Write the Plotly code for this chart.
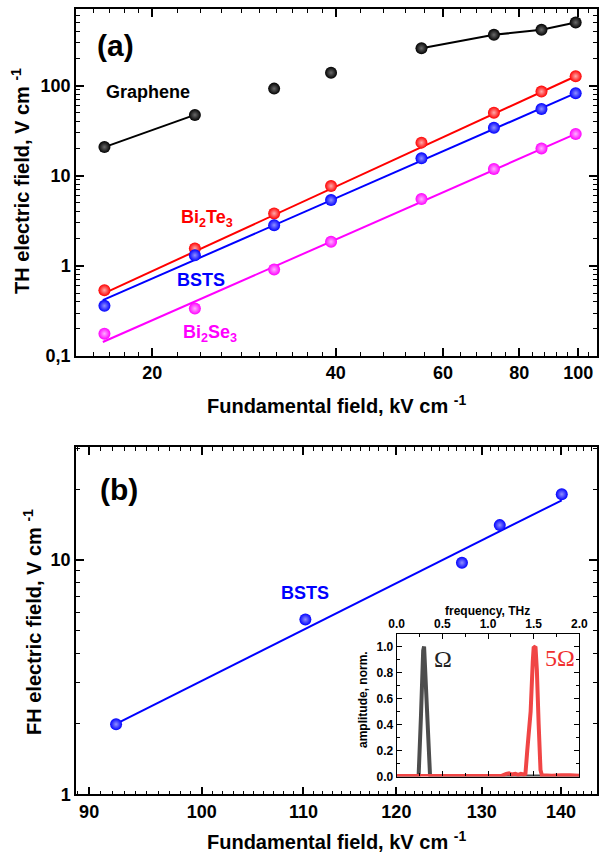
import plotly.graph_objects as go
import math

W, H = 601, 857

# ---------------- data: panel (a) ----------------
fund_a = [16.7, 23.5, 31.7, 39.3, 55.3, 72.7, 87.0, 99.0]
graphene = [20.8, 47.3, 92.6, 139, 260, 366, 416, 501]
bi2te3 = [0.537, 1.56, 3.82, 7.69, 23.3, 50.1, 85.8, 127]
bsts_a = [0.36, 1.31, 2.83, 5.37, 15.6, 34.1, 55.1, 82.4]
bi2se3 = [0.177, 0.336, 0.912, 1.85, 5.51, 11.9, 20.1, 29.1]

fit_x_a = [16.6, 99.0]
fit_bi2te3 = [0.49, 127]
fit_bsts_a = [0.416, 82.4]
fit_bi2se3 = [0.143, 29.1]

# graphene guide lines (connect pts 1-2 and 5-8)
graph_line_idx = [[0, 1], [4, 5, 6, 7]]

# ---------------- data: panel (b) ----------------
fund_b = [92.3, 110.2, 127.6, 132.2, 140.1]
fh_bsts = [1.99, 5.58, 9.74, 14.1, 19.1]
fit_x_b = [92.3, 140.1]
fit_b = [2.0, 18.0]

# ---------------- data: inset spectra ----------------
freq_omega = [0.0, 0.1, 0.2, 0.24, 0.265, 0.278, 0.29, 0.30, 0.31, 0.335, 0.365, 0.40,
              0.8, 1.2, 1.6, 2.0]
amp_omega = [0.0, 0.0, 0.0, 0.004, 0.45, 0.77, 0.97, 1.0, 0.85, 0.4, 0.01, 0.0,
             0.0, 0.0, 0.0, 0.0]
freq_5omega = [0.0, 0.2, 0.4, 0.6, 0.8, 1.0, 1.15, 1.2, 1.23, 1.26, 1.3, 1.33, 1.36,
               1.39, 1.41, 1.43, 1.452, 1.467, 1.49, 1.50, 1.52, 1.535, 1.555, 1.575,
               1.59, 1.62, 1.7, 1.8, 1.85, 1.9, 2.0]
amp_5omega = [0.004, 0.004, 0.004, 0.004, 0.004, 0.004, 0.005, 0.02, 0.025, 0.015,
              0.02, 0.012, 0.02, 0.015, 0.02, 0.2, 0.4, 0.5, 0.88, 0.99, 1.0, 0.82,
              0.4, 0.05, 0.01, 0.007, 0.006, 0.01, 0.007, 0.01, 0.006]

# tick labels
ya_vals = [0.1, 1, 10, 100]
ya_text = ["0,1", "1", "10", "100"]
xa_vals = [20, 40, 60, 80, 100]
yb_vals = [1, 10]
xb_vals = [90, 100, 110, 120, 130, 140]

# ---------------- helpers ----------------
def px(x):
    return x / W

def py(y):
    return 1 - y / H

FONT = "Liberation Sans, Arial, sans-serif"

def axis(**kw):
    d = dict(showline=True, linewidth=1.5, linecolor="black", mirror="ticks",
             ticks="inside", ticklen=8, tickwidth=1.5, tickcolor="black",
             showgrid=False, zeroline=False, automargin=False,
             tickfont=dict(family=FONT, size=18, color="black", weight="bold"))
    d.update(kw)
    return d

def minor(vals, ln=4):
    return dict(ticks="inside", ticklen=ln, tickwidth=1.2, tickcolor="black",
                tickmode="array", tickvals=vals, showgrid=False)

def ball(color, light):
    return dict(size=12, color=color, line=dict(width=0),
                gradient=dict(type="radial", color=light))

fig = go.Figure()

# panel (a)
for idx in graph_line_idx:
    fig.add_trace(go.Scatter(x=[fund_a[i] for i in idx], y=[graphene[i] for i in idx],
                             mode="lines", line=dict(color="black", width=2),
                             xaxis="x", yaxis="y", showlegend=False))
for fy, col in [(fit_bi2te3, "#ff0000"), (fit_bsts_a, "#0000ff"), (fit_bi2se3, "#ff00ff")]:
    fig.add_trace(go.Scatter(x=fit_x_a, y=fy, mode="lines", line=dict(color=col, width=2),
                             xaxis="x", yaxis="y", showlegend=False))
for yy, col, light in [(graphene, "#000000", "#6a6a6a"), (bi2te3, "#ff0000", "#ffaaaa"),
                       (bsts_a, "#0000ff", "#9090ff"), (bi2se3, "#ff00ff", "#ffb0ff")]:
    fig.add_trace(go.Scatter(x=fund_a, y=yy, mode="markers", marker=ball(col, light),
                             xaxis="x", yaxis="y", showlegend=False))

# panel (b)
fig.add_trace(go.Scatter(x=fit_x_b, y=fit_b, mode="lines", line=dict(color="#0000ff", width=2),
                         xaxis="x2", yaxis="y2", showlegend=False))
fig.add_trace(go.Scatter(x=fund_b, y=fh_bsts, mode="markers", marker=ball("#0000ff", "#9090ff"),
                         xaxis="x2", yaxis="y2", showlegend=False))

# inset
fig.add_trace(go.Scatter(x=freq_omega, y=amp_omega, mode="lines",
                         line=dict(color="#4d4d4d", width=4), xaxis="x3", yaxis="y3",
                         showlegend=False))
fig.add_trace(go.Scatter(x=freq_5omega, y=amp_5omega, mode="lines",
                         line=dict(color="#f04545", width=4), xaxis="x3", yaxis="y3",
                         showlegend=False))

minor_xa = [15, 16, 17, 18, 19, 22, 24, 26, 28, 30, 32, 34, 36, 38,
            44, 48, 52, 56, 64, 68, 72, 76, 84, 88, 92, 96, 104]
minor_ya = [m * 10 ** e for e in range(-1, 3) for m in range(2, 10)]
minor_xb = [v for v in range(89, 145) if v % 10 != 0]
minor_yb = [m * 10 ** e for e in range(0, 2) for m in range(2, 10)]

INSET_FONT = dict(family=FONT, size=12, color="black", weight="bold")

fig.update_layout(
    width=W, height=H, margin=dict(l=0, r=0, t=0, b=0),
    paper_bgcolor="white", plot_bgcolor="white",
    xaxis=axis(type="log", domain=[px(76), px(597)],
               range=[math.log10(15.0), math.log10(107.3)], anchor="y",
               tickmode="array", tickvals=xa_vals, ticktext=[str(v) for v in xa_vals],
               minor=minor(minor_xa)),
    yaxis=axis(type="log", domain=[py(356), py(9)], range=[-1, 2.85], anchor="x",
               tickmode="array", tickvals=ya_vals, ticktext=ya_text,
               minor=minor(minor_ya)),
    xaxis2=axis(type="log", domain=[px(76), px(597)],
                range=[math.log10(88.9), math.log10(144.8)], anchor="y2",
                tickmode="array", tickvals=xb_vals, ticktext=[str(v) for v in xb_vals],
                minor=minor(minor_xb)),
    yaxis2=axis(type="log", domain=[py(794.3), py(447.3)], range=[0, math.log10(30.3)],
                anchor="x2", tickmode="array", tickvals=yb_vals,
                ticktext=[str(v) for v in yb_vals], minor=minor(minor_yb)),
    xaxis3=axis(domain=[px(396.7), px(579.3)], range=[0, 2.0], anchor="y3", side="top",
                tickmode="array", tickvals=[0, 0.5, 1.0, 1.5, 2.0],
                ticktext=["0.0", "0.5", "1.0", "1.5", "2.0"], ticklen=5, tickwidth=1.2,
                linewidth=1.2, tickfont=INSET_FONT,
                minor=dict(ticks="inside", ticklen=3, tickwidth=1, tickcolor="black",
                           dtick=0.25, showgrid=False)),
    yaxis3=axis(domain=[py(776.5), py(633.5)], range=[0, 1.1], anchor="x3",
                tickmode="array", tickvals=[0, 0.2, 0.4, 0.6, 0.8, 1.0],
                ticktext=["0.0", "0.2", "0.4", "0.6", "0.8", "1.0"], ticklen=5,
                tickwidth=1.2, linewidth=1.2, tickfont=INSET_FONT,
                minor=dict(ticks="inside", ticklen=3, tickwidth=1, tickcolor="black",
                           dtick=0.1, showgrid=False)),
)

def ann(text, x, y, size, color="black", angle=0, family=FONT, bold=True):
    fig.add_annotation(text=("<b>%s</b>" % text) if bold else text, x=px(x), y=py(y),
                       xref="paper", yref="paper", showarrow=False, textangle=angle,
                       xanchor="center", yanchor="middle",
                       font=dict(family=family, size=size, color=color))

ann("(a)", 115, 45, 30)
ann("(b)", 119, 489, 30)
ann("Graphene", 148, 92, 18)
ann("Bi<sub>2</sub>Te<sub>3</sub>", 207, 219, 18, "#ff0000")
ann("BSTS", 201, 280, 18, "#0000ff")
ann("Bi<sub>2</sub>Se<sub>3</sub>", 210, 333, 18, "#ff00ff")
ann("BSTS", 305, 593, 18, "#0000ff")
ann("Fundamental field, kV cm <sup>-1</sup>", 337, 405, 20)
ann("TH electric field, V cm <sup>-1</sup>", 21, 181, 20, angle=-90)
ann("Fundamental field, kV cm <sup>-1</sup>", 337, 840, 20)
ann("FH electric field, V cm <sup>-1</sup>", 32, 622, 20, angle=-90)
ann("frequency, THz", 488, 611, 12)
ann("amplitude, norm.", 363, 700, 12, angle=-90)
ann("Ω", 443, 659, 24, "#222222", family="Liberation Serif, Times New Roman, serif", bold=False)
ann("5Ω", 560, 658, 24, "#f03030", family="Liberation Serif, Times New Roman, serif", bold=False)

fig.write_html("out.html", config={"displayModeBar": False},
               post_script=["document.body.style.margin='0';document.body.style.overflow='hidden';"])
